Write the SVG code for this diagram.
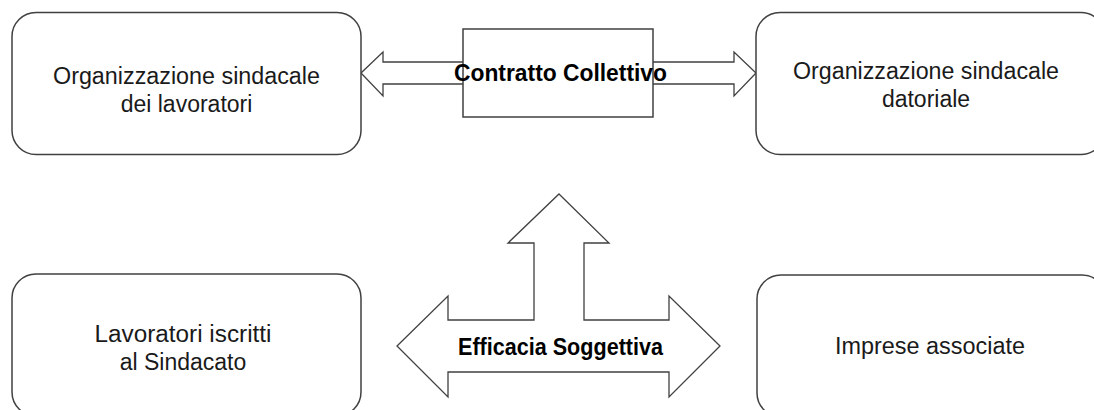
<svg xmlns="http://www.w3.org/2000/svg" width="1094" height="410" viewBox="0 0 1094 410">
<style>
.box{fill:#ffffff;stroke:#404040;stroke-width:1.5}
.arr{fill:#ffffff;stroke:#404040;stroke-width:1.3;stroke-linejoin:miter}
.t{font-family:"Liberation Sans",Arial,sans-serif;font-size:23px;fill:#1a1a1a;text-anchor:middle}
.b{font-family:"Liberation Sans",Arial,sans-serif;font-size:23px;font-weight:bold;fill:#000000;text-anchor:middle}
</style>
<rect width="1094" height="410" fill="#ffffff"/>
<g id="connectors">
<polygon class="arr" points="361,73 383,52 383,62 734,62 734,52 756,73 734,96 734,84 383,84 383,96"/>
</g>
<g id="node-lavoratori-org">
<rect class="box" x="12" y="12.5" width="349" height="142" rx="24" ry="24"/>
<text class="t" x="186.5" y="84" textLength="267" lengthAdjust="spacingAndGlyphs">Organizzazione sindacale</text>
<text class="t" x="186.5" y="112">dei lavoratori</text>
</g>
<g id="node-datoriale">
<rect class="box" x="756" y="12.5" width="349" height="142" rx="24" ry="24"/>
<text class="t" x="926" y="79" textLength="266" lengthAdjust="spacingAndGlyphs">Organizzazione sindacale</text>
<text class="t" x="926" y="107">datoriale</text>
</g>
<g id="node-contratto">
<rect class="box" x="463" y="29" width="190" height="88"/>
<text class="b" x="560.5" y="81" textLength="213" lengthAdjust="spacingAndGlyphs">Contratto Collettivo</text>
</g>
<g id="node-efficacia">
<polygon class="arr" points="559,194 609,243 584,243 584,320 669,320 669,296 720,346 669,397 669,372 448,372 448,397 397,346 448,296 448,320 534,320 534,243 508,243"/>
<text class="b" x="560.5" y="355" font-size="22" textLength="205" lengthAdjust="spacingAndGlyphs">Efficacia Soggettiva</text>
</g>
<g id="node-iscritti">
<rect class="box" x="12" y="274" width="349" height="142" rx="24" ry="24"/>
<text class="t" x="183" y="342" textLength="177" lengthAdjust="spacingAndGlyphs">Lavoratori iscritti</text>
<text class="t" x="183" y="370">al Sindacato</text>
</g>
<g id="node-imprese">
<rect class="box" x="757" y="275" width="349" height="142" rx="24" ry="24"/>
<text class="t" x="930" y="354" textLength="190" lengthAdjust="spacingAndGlyphs">Imprese associate</text>
</g>
</svg>
